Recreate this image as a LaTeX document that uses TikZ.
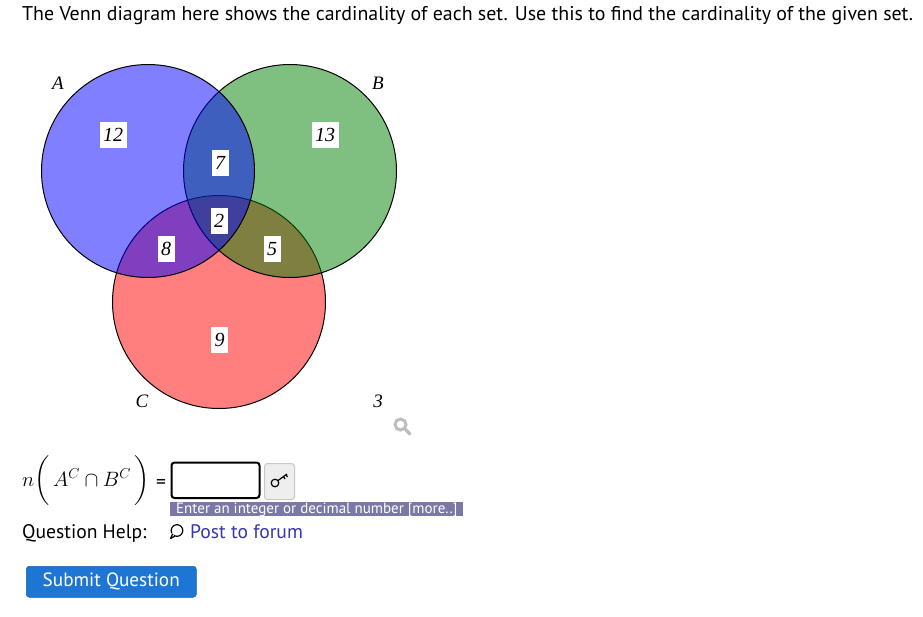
\documentclass[tikz,border=0pt]{standalone}
\usepackage{amsmath}
\usepackage{exscale}
\usepackage{fontspec}
\setmainfont{PT Sans}
\newfontfamily\vennfont{Liberation Serif}
\definecolor{vblue}{RGB}{0,0,255}
\definecolor{vgreen}{RGB}{0,128,0}
\definecolor{vred}{RGB}{255,0,0}
\definecolor{tipbg}{RGB}{122,120,166}
\definecolor{linkblue}{RGB}{53,53,181}
\definecolor{btnblue}{RGB}{30,118,212}
\definecolor{keybg}{RGB}{238,238,238}
\definecolor{keyborder}{RGB}{200,200,200}
\definecolor{magnif}{RGB}{190,190,190}
\tikzset{
  vset/.style={draw=black, line width=1pt, fill opacity=0.5},
  vnum/.style={fill=white, inner xsep=3.5pt, inner ysep=0pt, minimum height=26pt, font=\vennfont\itshape\fontsize{20}{22}\selectfont},
  vlab/.style={inner sep=0pt, font=\vennfont\itshape\fontsize{19}{21}\selectfont},
  uitext/.style={inner sep=0pt, font=\fontsize{19.6}{23}\selectfont},
}
\begin{document}
\begin{tikzpicture}[x=1pt,y=-1pt]
\useasboundingbox (0,0) rectangle (923,616);
% title
\node[inner sep=0pt, anchor=base west, font=\fontsize{19.9}{23}\selectfont] (title) at (22,20)
  {The Venn diagram here shows the cardinality of each set. Use this to find the cardinality of the given set.};
% circles, drawn C, B, A
\path[vset, fill=vred] (219,302) circle[radius=106.5];
\path[vset, fill=vgreen] (290,171) circle[radius=106.5];
\path[vset, fill=vblue] (148,171) circle[radius=106.5];
% region numbers
\node[vnum] (n12) at (113,135) {12};
\node[vnum] (n13) at (325,135) {13};
\node[vnum] (n7) at (220,163) {7};
\node[vnum] (n2) at (219,221) {2};
\node[vnum] (n8) at (166,249) {8};
\node[vnum] (n5) at (272,249) {5};
\node[vnum] (n9) at (219.5,340) {9};
% set labels
\node[vlab] (la) at (58,83) {A};
\node[vlab] (lb) at (378,83) {B};
\node[vlab] (lc) at (142,401) {C};
\node[vlab] (l3) at (378,401) {3};
% magnifier
\draw[magnif, line width=3pt] (400.5,424.5) circle[radius=5.5];
\draw[magnif, line width=3.5pt, line cap=round] (405,429) -- (410,434);
% question
\node[inner sep=0pt, anchor=base west, font=\fontsize{19.5}{22}\selectfont] (q) at (22,486)
  {$n\bigg(\,A^C\cap B^C\,\bigg)$};
\node[uitext, anchor=base west] (eq) at (156,488) {=};
\draw[black, line width=2pt, rounded corners=3pt] (171.5,462.5) rectangle (259.5,498) coordinate (boxse);
\node[inner sep=0pt, minimum width=30pt, minimum height=36pt, draw=keyborder, fill=keybg, rounded corners=3pt, line width=1pt, anchor=north west] (key) at (264,463) {};
\draw[line width=1.2pt] (275,483) circle[radius=3.8];
\draw[line width=1.2pt] (278,480.5) -- (287,474) (283.5,476.5) -- (285,479) (286,474.7) -- (287.5,477);
\path[fill=tipbg] (170,501.5) rectangle (463,516);
\node[text=white, inner sep=0pt, anchor=base west, font=\fontsize{15}{16}\selectfont] (tip) at (176,513) {Enter an integer or decimal number [more..]};
\node[uitext, anchor=base west] (help) at (22,538.5) {Question Help:};
\draw[line width=1.2pt] (177,530.5) circle[radius=5.8];
\path[fill=white] (170,534) -- (173.5,533) -- (174,538.5) -- cycle;
\draw[line width=1.2pt, line join=round] (172.6,534) -- (170.5,538.5) -- (175,536);
\node[uitext, anchor=base west, text=linkblue] (post) at (190,538.5) {Post to forum};
\node[fill=btnblue, draw=btnblue!80!black, line width=0.5pt, rounded corners=3pt, text=white, minimum width=170pt, minimum height=31pt, anchor=north west, font=\fontsize{19.2}{22}\selectfont] (submit) at (26,566) {Submit Question};
\end{tikzpicture}
\end{document}
